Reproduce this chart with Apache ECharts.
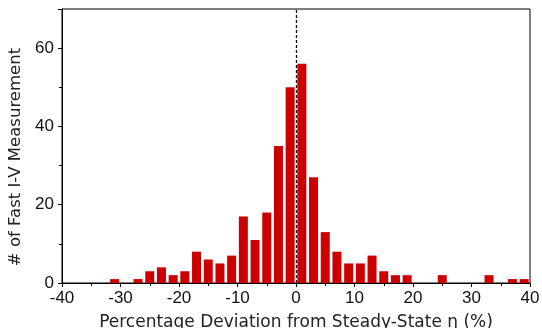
<!DOCTYPE html>
<html>
<head>
<meta charset="utf-8">
<script src="https://cdn.jsdelivr.net/npm/echarts@6/dist/echarts.min.js"></script>
<style>
  html, body {margin: 0; padding: 0; background: #fff;}
  #chart {width: 542px; height: 328px;}
</style>
</head>
<body>
<div id="chart"></div>
<script>
// bin centres (% deviation) and counts
const binCenters = [-31, -29, -27, -25, -23, -21, -19, -17, -15, -13, -11, -9, -7, -5, -3, -1,
  1, 3, 5, 7, 9, 11, 13, 15, 17, 19, 21, 23, 25, 27, 29, 31, 33, 35, 37, 39];
const counts = [1, 0, 1, 3, 4, 2, 3, 8, 6, 5, 7, 17, 11, 18, 35, 50,
  56, 27, 13, 8, 5, 5, 7, 3, 2, 2, 0, 0, 2, 0, 0, 0, 2, 0, 1, 1];
const xTicks = [-40, -30, -20, -10, 0, 10, 20, 30, 40];
const yTicks = [0, 20, 40, 60];

const tickFont = 'Liberation Sans, Arial, sans-serif';
const nameFont = 'DejaVu Sans, sans-serif';
const chart = echarts.init(document.getElementById('chart'));

chart.setOption({
  animation: false,
  grid: {
    left: 62, right: 12, top: 9, bottom: 45,
    outerBoundsMode: 'none',
    containLabel: false,
    show: true, borderColor: '#000', borderWidth: 1
  },
  xAxis: {
    type: 'value',
    min: xTicks[0],
    max: xTicks[xTicks.length - 1],
    interval: 10,
    name: 'Percentage Deviation from Steady-State η (%)',
    nameLocation: 'middle',
    nameGap: 31,
    nameTextStyle: {fontFamily: nameFont, fontSize: 17, color: '#222'},
    axisLine: {onZero: false, lineStyle: {color: '#000', width: 1}},
    axisTick: {inside: false, length: 4, lineStyle: {color: '#000'}},
    minorTick: {show: true, splitNumber: 2, length: 3, lineStyle: {color: '#000'}},
    axisLabel: {fontFamily: tickFont, fontSize: 17, color: '#111', margin: 7},
    splitLine: {show: false}
  },
  yAxis: {
    type: 'value',
    min: 0,
    max: 70,
    interval: 20,
    name: '# of Fast I-V Measurement',
    nameLocation: 'middle',
    nameGap: 36,
    nameTextStyle: {fontFamily: nameFont, fontSize: 16.5, color: '#222', padding: [0, 22, 0, 0]},
    axisLine: {show: true, onZero: false, lineStyle: {color: '#000', width: 1}},
    axisTick: {show: true, inside: false, length: 4, lineStyle: {color: '#000'}},
    minorTick: {show: true, splitNumber: 2, length: 3, lineStyle: {color: '#000'}},
    axisLabel: {
      fontFamily: tickFont, fontSize: 17, color: '#111', margin: 8,
      formatter(val) {
        return yTicks.indexOf(val) >= 0 ? String(val) : '';
      }
    },
    splitLine: {show: false}
  },
  series: [{
    type: 'bar',
    data: binCenters.map((c, i) => [c, counts[i]]),
    barWidth: 9,
    itemStyle: {color: '#cc0000'},
    markLine: {
      silent: true,
      symbol: 'none',
      label: {show: false},
      lineStyle: {color: '#000', type: [3, 2], width: 1.3},
      data: [{xAxis: 0}]
    }
  }]
});
</script>
</body>
</html>
